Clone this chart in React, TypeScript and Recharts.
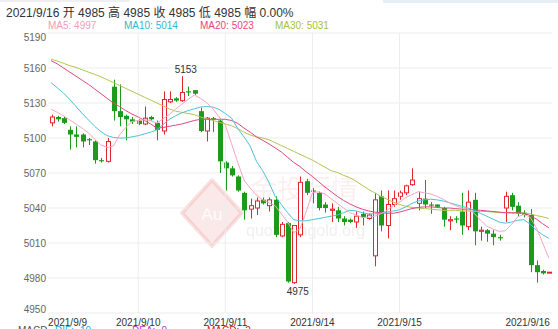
import React from 'react';
import {
  ComposedChart,
  Bar,
  Line,
  XAxis,
  YAxis,
  CartesianGrid,
  ReferenceLine,
  ReferenceDot,
} from 'recharts';

const FONT = "Arial, 'Liberation Sans', 'Noto Sans CJK SC', sans-serif";
const RED = '#e0262f';
const GREEN = '#1c9a1c';

const tickIndex = [0, 14, 28, 42, 56, 80];
const tickLabels = ['2021/9/9', '2021/9/10', '2021/9/11', '2021/9/14', '2021/9/15', '2021/9/16'];
const yTicks = [4950, 4980, 5010, 5040, 5070, 5100, 5130, 5160, 5190];

const open = [
  5113, 5118, 5117, 5107, 5103, 5103, 5099, 5097, 5081, 5080,
  5144, 5123, 5119, 5116, 5115, 5112, 5118, 5113, 5106, 5131,
  5134, 5132, 5140, 5141, 5123, 5106, 5117, 5115, 5079, 5074,
  5067, 5053, 5039, 5040, 5047, 5042, 5047, 5016, 5027, 4976,
  5017, 5063, 5055, 5053, 5043, 5038, 5038, 5031, 5030, 5028,
  5035, 5031, 4999, 5050, 5025, 5043, 5050, 5053, 5060, 5044,
  5048, 5043, 5043, 5040, 5029, 5031, 5037, 5024, 5047, 5020,
  5021, 5018, 5015, 5040, 5051, 5042, 5036, 5034, 4991, 4986,
  4985,
];
const high = [
  5120, 5119, 5118, 5110, 5110, 5104, 5100, 5098, 5083, 5100,
  5150, 5146, 5120, 5118, 5116, 5127, 5119, 5115, 5140, 5140,
  5135, 5153, 5144, 5141, 5126, 5118, 5118, 5117, 5080, 5076,
  5068, 5054, 5048, 5049, 5049, 5049, 5050, 5028, 5028, 5025,
  5067, 5065, 5057, 5054, 5045, 5044, 5041, 5033, 5031, 5037,
  5037, 5035, 5053, 5055, 5055, 5055, 5055, 5060, 5074, 5054,
  5064, 5045, 5043, 5041, 5033, 5033, 5053, 5055, 5053, 5024,
  5022, 5021, 5017, 5054, 5053, 5045, 5038, 5039, 4995, 4987,
  4985,
];
const low = [
  5110, 5114, 5112, 5090, 5092, 5092, 5094, 5078, 5079, 5079,
  5115, 5110, 5098, 5112, 5111, 5111, 5115, 5098, 5103, 5130,
  5131, 5131, 5136, 5137, 5105, 5097, 5105, 5070, 5055, 5067,
  5054, 5030, 5031, 5034, 5043, 5037, 5015, 5015, 4976, 4975,
  5015, 5051, 5044, 5038, 5036, 5028, 5028, 5025, 5027, 5023,
  5025, 5030, 4990, 5020, 5014, 5041, 5047, 5051, 5059, 5038,
  5040, 5035, 5040, 5024, 5021, 5027, 5017, 5021, 5008, 5012,
  5011, 5008, 5012, 5028, 5038, 5033, 5032, 4985, 4976, 4983,
  4985,
];
const close = [
  5118, 5116, 5113, 5103, 5101, 5097, 5098, 5081, 5080, 5097,
  5123, 5118, 5116, 5114, 5112, 5117, 5116, 5107, 5133, 5133,
  5132, 5139, 5139, 5138, 5106, 5117, 5116, 5080, 5074, 5068,
  5055, 5038, 5042, 5046, 5044, 5047, 5017, 5026, 4977, 5025,
  5062, 5053, 5054, 5040, 5040, 5039, 5031, 5028, 5028, 5033,
  5032, 5034, 5047, 5025, 5043, 5048, 5053, 5059, 5064, 5048,
  5043, 5042, 5041, 5030, 5030, 5030, 5025, 5045, 5020, 5021,
  5018, 5015, 5014, 5050, 5041, 5035, 5034, 4991, 4985, 4984,
  4985,
];

const ma5 = [
  5124.6, 5122, 5119, 5115.5, 5112, 5108.3, 5104.5, 5099, 5094, 5092,
  5093, 5102.7, 5109, 5114.2, 5115, 5115.7, 5114.8, 5112.7, 5116.5, 5120.3,
  5124.7, 5129, 5133, 5136.8, 5134, 5130.3, 5125, 5118, 5111, 5095,
  5079, 5064, 5057, 5051, 5047, 5044.5, 5042, 5035, 5028, 5019,
  5022, 5037, 5053, 5054, 5052, 5048, 5044, 5040, 5036, 5034,
  5032, 5032, 5033, 5035, 5038, 5042, 5045, 5049, 5051.5, 5054,
  5053, 5052, 5050, 5047.5, 5044.5, 5042, 5040, 5039, 5035.5, 5029.5,
  5024.5, 5022, 5020, 5020.5, 5026, 5032.5, 5034.5, 5032, 5023, 5010,
  4997,
];
const ma10 = [
  5147.4, 5143, 5138.5, 5133, 5127, 5121, 5115.5, 5110, 5105.5, 5102,
  5100.5, 5100, 5100, 5101, 5102, 5103.5, 5105, 5107, 5111.5, 5116,
  5119, 5121.5, 5123.5, 5125, 5126.5, 5127, 5126.5, 5124.5, 5121, 5117,
  5108, 5101, 5093, 5080, 5072, 5062, 5050, 5043, 5036, 5030,
  5029, 5029, 5030, 5031, 5032, 5033, 5034, 5036, 5038, 5037.5,
  5036, 5035, 5035, 5035.5, 5036.5, 5037.5, 5038.5, 5041, 5044, 5046,
  5047, 5047.5, 5047, 5046, 5044.5, 5043, 5041.5, 5040, 5038, 5035.5,
  5033, 5030.5, 5028, 5027, 5028, 5029.5, 5030, 5026, 5021, 5017,
  5014,
];
const ma20 = [
  5166.3, 5163.5, 5160, 5156.5, 5153, 5149.5, 5146, 5142, 5138, 5134,
  5130, 5127, 5123.5, 5120.5, 5118, 5115, 5112, 5108.5, 5109, 5110,
  5111, 5112, 5113.5, 5115, 5116, 5116, 5116, 5116, 5116, 5115,
  5112.5, 5108.5, 5105, 5101, 5098, 5095, 5091.5, 5088, 5083.5, 5079,
  5075.5, 5071, 5067, 5062.5, 5058, 5054, 5050, 5046.5, 5043.5, 5041,
  5039, 5037.5, 5036.5, 5036, 5035.5, 5035.5, 5036.5, 5038, 5039.5, 5040.5,
  5041, 5041, 5040.5, 5040, 5040, 5039.5, 5039, 5039, 5038.5, 5038,
  5037.5, 5037, 5036.5, 5036, 5036, 5036, 5035.5, 5033.5, 5030.5, 5026.5,
  5023,
];
const ma30 = [
  5167.5, 5166, 5164, 5162, 5160.5, 5158.5, 5156.5, 5154.5, 5152.5, 5150,
  5147.5, 5145, 5142.5, 5140, 5137.5, 5135, 5132.5, 5130, 5127.5, 5125,
  5123, 5122, 5121, 5120, 5118, 5116.5, 5115, 5113.5, 5112, 5110.5,
  5108, 5105, 5102.5, 5101, 5100, 5098.5, 5096, 5093.5, 5091, 5088.5,
  5086, 5083.5, 5081, 5078, 5075, 5072, 5070.5, 5068, 5066, 5063,
  5059.5, 5056, 5053, 5050, 5047.5, 5045, 5043, 5041.5, 5040.5, 5040,
  5039.5, 5039, 5038.5, 5038, 5038, 5038, 5037.5, 5037.5, 5037, 5037,
  5037, 5036.5, 5036, 5036, 5035.5, 5035.5, 5035.5, 5035, 5033.5, 5032.5,
  5031,
];

const data = open.map((o, i) => ({
  i,
  o,
  h: high[i],
  l: low[i],
  c: close[i],
  ma5: ma5[i],
  ma10: ma10[i],
  ma20: ma20[i],
  ma30: ma30[i],
}));

const maxHigh = Math.max(...high);
const minLow = Math.min(...low);
const maxIdx = high.indexOf(maxHigh);
const minIdx = low.indexOf(minLow);
const last = data[data.length - 1];
const lastOf = (a: number[]) => a[a.length - 1];

const Candle = (props: any) => {
  const { x, y, width, height, payload } = props;
  if (x == null || y == null || !payload) return null;
  const { o, h, l, c } = payload;
  const top = height < 0 ? y + height : y;
  const span = Math.abs(height || 0);
  const k = h > l ? span / (h - l) : 0;
  const py = (v: number) => top + (h - v) * k;
  const cx = Math.round(x + width / 2) + 0.5;
  const up = c >= o;
  const color = up ? RED : GREEN;
  const bt = py(Math.max(o, c));
  const bh = Math.max(py(Math.min(o, c)) - bt, 1);
  return (
    <g>
      <line x1={cx} x2={cx} y1={top} y2={top + span} stroke={color} strokeWidth={1} />
      {up ? (
        <rect x={cx - 2} y={bt} width={4} height={bh} fill="#fff" stroke={color} strokeWidth={1} />
      ) : (
        <rect x={cx - 2.5} y={bt} width={5} height={bh} fill={color} />
      )}
    </g>
  );
};

const XTick = (props: any) => {
  const { x, y, payload } = props;
  const k = tickIndex.indexOf(payload.value);
  const anchor = k === 0 ? 'start' : k === tickIndex.length - 1 ? 'end' : 'middle';
  const dx = k === 0 ? -3 : k === tickIndex.length - 1 ? 1 : 0;
  return (
    <text x={x + dx} y={y + 11} textAnchor={anchor} fontSize={10} fill="#333" fontFamily={FONT}>
      {tickLabels[k]}
    </text>
  );
};

const YTick = (props: any) => {
  const { x, y, payload } = props;
  const v = payload.value;
  const dy = v === yTicks[yTicks.length - 1] ? 4 : v === yTicks[0] ? -4 : 0;
  return (
    <text x={x} y={y + dy} dy="0.35em" textAnchor="end" fontSize={10} fill="#666" fontFamily={FONT}>
      {v}
    </text>
  );
};

const Watermark = () => (
  <svg width={558} height={329} style={{ position: 'absolute', left: 0, top: 0 }}>
    <polygon
      points="212,180 242,213 212,246 182,213"
      fill="rgba(232,120,120,0.16)"
      stroke="rgba(232,120,120,0.22)"
      strokeWidth={4}
      strokeLinejoin="round"
    />
    <text x={212} y={220} textAnchor="middle" fontSize={17} fill="rgba(255,255,255,0.9)" fontFamily={FONT}>
      Au
    </text>
    <text x={250} y={199} fontSize={27} fill="rgba(225,130,130,0.13)" fontFamily={FONT}>
      金投行情
    </text>
    <text x={246} y={236} fontSize={16} fill="rgba(160,160,160,0.18)" fontFamily={FONT}>
      quote.cngold.org
    </text>
  </svg>
);

const ma = (left: number, text: string, color: string) => (
  <span key={left} style={{ position: 'absolute', left, top: 20, fontSize: 10, color, whiteSpace: 'nowrap' }}>
    {text}
  </span>
);

export default function App() {
  const header = `2021/9/16 开 ${last.o} 高 ${last.h} 收 ${last.c} 低 ${last.l} 幅 0.00%`;
  return (
    <div
      style={{
        position: 'absolute',
        left: 0,
        top: 0,
        width: 558,
        height: 329,
        overflow: 'hidden',
        background: '#fff',
        fontFamily: FONT,
      }}
    >
      <div style={{ position: 'absolute', left: 0, top: 0, width: 130, height: 2, background: '#eef0f3' }} />
      <div style={{ position: 'absolute', left: 383, top: 0, width: 175, height: 3, background: '#e6eef8' }} />
      <div
        style={{
          position: 'absolute',
          left: 6,
          top: 6,
          fontSize: 12,
          lineHeight: '14px',
          color: '#333',
          whiteSpace: 'pre',
        }}
      >
        {header}
      </div>
      {ma(48, `MA5: ${lastOf(ma5)}`, '#f29cb9')}
      {ma(124, `MA10: ${lastOf(ma10)}`, '#35b5d6')}
      {ma(200, `MA20: ${lastOf(ma20)}`, '#e6487e')}
      {ma(275, `MA30: ${lastOf(ma30)}`, '#a6c23a')}
      <Watermark />
      <div style={{ position: 'absolute', left: 0, top: 0 }}>
        <ComposedChart width={558} height={329} data={data} margin={{ top: 33, right: 6, bottom: 0, left: 8 }}>
          <CartesianGrid vertical={false} stroke="#ededed" />
          <XAxis
            dataKey="i"
            type="number"
            domain={[-0.5, 80.5]}
            ticks={tickIndex}
            interval={0}
            tick={<XTick />}
            tickLine={false}
            axisLine={false}
            height={16}
            tickSize={0}
          />
          <YAxis
            type="number"
            domain={[yTicks[0], yTicks[yTicks.length - 1]]}
            ticks={yTicks}
            interval={0}
            tick={<YTick />}
            tickLine={false}
            axisLine={false}
            width={40}
            tickSize={2}
            tickMargin={0}
            allowDataOverflow
          />
          {tickIndex.slice(1, -1).map((t) => (
            <ReferenceLine key={t} x={t} stroke="#ededed" />
          ))}
          <Bar dataKey={(d: any) => [d.l, d.h]} barSize={5} shape={<Candle />} isAnimationActive={false} />
          <Line type="linear" dataKey="ma30" stroke="#b2c64e" strokeWidth={1} dot={false} isAnimationActive={false} />
          <Line type="linear" dataKey="ma20" stroke="#e0487e" strokeWidth={1} dot={false} isAnimationActive={false} />
          <Line type="linear" dataKey="ma10" stroke="#4cc2dc" strokeWidth={1} dot={false} isAnimationActive={false} />
          <Line type="linear" dataKey="ma5" stroke="#f5a6c2" strokeWidth={1} dot={false} isAnimationActive={false} />
          <ReferenceDot
            x={maxIdx}
            y={maxHigh}
            r={0}
            label={{ value: String(maxHigh), position: 'top', offset: 3, fontSize: 10, fill: '#333', dx: 4 }}
          />
          <ReferenceDot
            x={minIdx}
            y={minLow}
            r={0}
            label={{ value: String(minLow), position: 'bottom', offset: 4, fontSize: 10, fill: '#333', dx: 4 }}
          />
        </ComposedChart>
      </div>
      <div style={{ position: 'absolute', left: 0, top: 325, fontSize: 10, lineHeight: '11px', whiteSpace: 'nowrap' }}>
        <span style={{ position: 'absolute', left: 18, color: '#555' }}>MACD</span>
        <span style={{ position: 'absolute', left: 55, color: '#2aa9d8' }}>DIF: -10</span>
        <span style={{ position: 'absolute', left: 132, color: '#b03cc0' }}>DEA: -9</span>
        <span style={{ position: 'absolute', left: 207, color: '#d02020' }}>MACD: -2</span>
      </div>
    </div>
  );
}
